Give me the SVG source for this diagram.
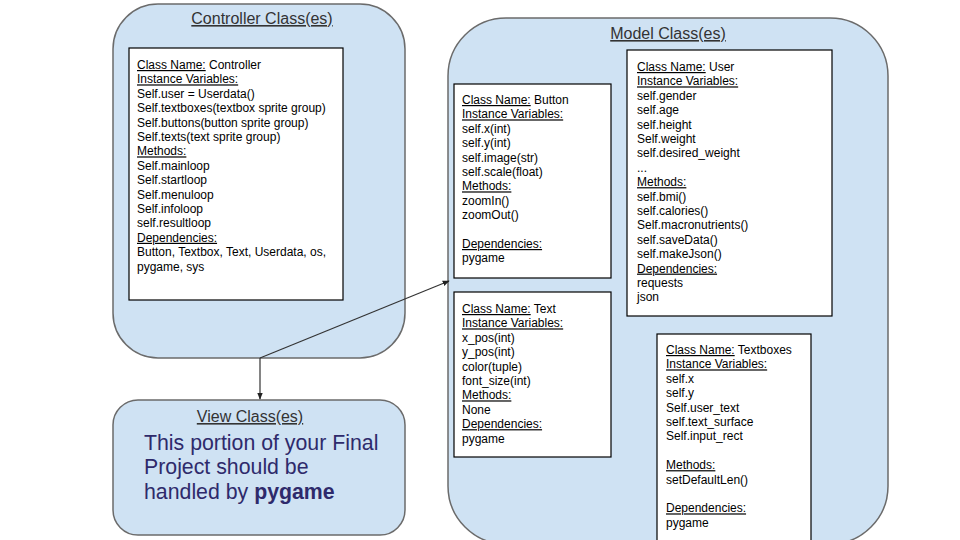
<svg xmlns="http://www.w3.org/2000/svg" width="960" height="540" viewBox="0 0 960 540">
<defs>
<style>
.grp{fill:#cfe2f3;stroke:#6b6b6b;stroke-width:1.5}
.cls{fill:#ffffff;stroke:#000000;stroke-width:1.2}
.t{font-family:"Liberation Sans",Arial,sans-serif;font-size:12px;fill:#000}
.u{text-decoration:underline}
.title{font-family:"Liberation Sans",Arial,sans-serif;font-size:16px;fill:#333;text-decoration:underline;text-anchor:middle}
.view{font-family:"Liberation Sans",Arial,sans-serif;font-size:21.3px;fill:#2e2a6b}
.conn{fill:none;stroke:#333;stroke-width:1.2}
</style>
<marker id="ah" viewBox="0 0 10 10" refX="9" refY="5" markerWidth="7" markerHeight="7" orient="auto" markerUnits="userSpaceOnUse">
<path d="M0,1 L10,5 L0,9 Z" fill="#222"/>
</marker>
</defs>
<rect width="960" height="540" fill="#ffffff"/>

<g id="controller">
<rect class="grp" x="113" y="4" width="292" height="354" rx="45"/>
<text class="title" x="262" y="24">Controller Class(es)</text>
<rect class="cls" x="129" y="48" width="214" height="252"/>
<text class="t" x="137" y="69"><tspan class="u">Class Name:</tspan> Controller</text>
<text class="t u" x="137" y="83.4">Instance Variables:</text>
<text class="t" x="137" y="97.8">Self.user = Userdata()</text>
<text class="t" x="137" y="112.2">Self.textboxes(textbox sprite group)</text>
<text class="t" x="137" y="126.6">Self.buttons(button sprite group)</text>
<text class="t" x="137" y="141">Self.texts(text sprite group)</text>
<text class="t u" x="137" y="155.4">Methods:</text>
<text class="t" x="137" y="169.8">Self.mainloop</text>
<text class="t" x="137" y="184.2">Self.startloop</text>
<text class="t" x="137" y="198.6">Self.menuloop</text>
<text class="t" x="137" y="213">Self.infoloop</text>
<text class="t" x="137" y="227.4">self.resultloop</text>
<text class="t u" x="137" y="241.8">Dependencies:</text>
<text class="t" x="137" y="256.2">Button, Textbox, Text, Userdata, os,</text>
<text class="t" x="137" y="270.6">pygame, sys</text>
</g>

<g id="view">
<rect class="grp" x="113" y="400" width="292" height="135" rx="25"/>
<text class="title" x="250" y="422">View Class(es)</text>
<text class="view" x="144" y="450">This portion of your Final</text>
<text class="view" x="144" y="474">Project should be</text>
<text class="view" x="144" y="499">handled by <tspan font-weight="bold">pygame</tspan></text>
</g>

<g id="model">
<rect class="grp" x="448" y="18" width="440" height="526" rx="58"/>
<text class="title" x="668" y="39">Model Class(es)</text>
</g>

<g id="button">
<rect class="cls" x="454" y="84" width="157" height="194"/>
<text class="t" x="462" y="104"><tspan class="u">Class Name:</tspan> Button</text>
<text class="t u" x="462" y="118.4">Instance Variables:</text>
<text class="t" x="462" y="132.8">self.x(int)</text>
<text class="t" x="462" y="147.2">self.y(int)</text>
<text class="t" x="462" y="161.6">self.image(str)</text>
<text class="t" x="462" y="176">self.scale(float)</text>
<text class="t u" x="462" y="190.4">Methods:</text>
<text class="t" x="462" y="204.8">zoomIn()</text>
<text class="t" x="462" y="219.2">zoomOut()</text>
<text class="t u" x="462" y="248">Dependencies:</text>
<text class="t" x="462" y="262.4">pygame</text>
</g>

<g id="text">
<rect class="cls" x="454" y="292" width="157" height="165"/>
<text class="t" x="462" y="313"><tspan class="u">Class Name:</tspan> Text</text>
<text class="t u" x="462" y="327.4">Instance Variables:</text>
<text class="t" x="462" y="341.8">x_pos(int)</text>
<text class="t" x="462" y="356.2">y_pos(int)</text>
<text class="t" x="462" y="370.6">color(tuple)</text>
<text class="t" x="462" y="385">font_size(int)</text>
<text class="t u" x="462" y="399.4">Methods:</text>
<text class="t" x="462" y="413.8">None</text>
<text class="t u" x="462" y="428.2">Dependencies:</text>
<text class="t" x="462" y="442.6">pygame</text>
</g>

<g id="user">
<rect class="cls" x="627" y="50" width="205" height="266"/>
<text class="t" x="637" y="71"><tspan class="u">Class Name:</tspan> User</text>
<text class="t u" x="637" y="85.4">Instance Variables:</text>
<text class="t" x="637" y="99.8">self.gender</text>
<text class="t" x="637" y="114.2">self.age</text>
<text class="t" x="637" y="128.6">self.height</text>
<text class="t" x="637" y="143">Self.weight</text>
<text class="t" x="637" y="157.4">self.desired_weight</text>
<text class="t" x="637" y="171.8">...</text>
<text class="t u" x="637" y="186.2">Methods:</text>
<text class="t" x="637" y="200.6">self.bmi()</text>
<text class="t" x="637" y="215">self.calories()</text>
<text class="t" x="637" y="229.4">Self.macronutrients()</text>
<text class="t" x="637" y="243.8">self.saveData()</text>
<text class="t" x="637" y="258.2">self.makeJson()</text>
<text class="t u" x="637" y="272.6">Dependencies:</text>
<text class="t" x="637" y="287">requests</text>
<text class="t" x="637" y="301.4">json</text>
</g>

<g id="textboxes">
<rect class="cls" x="657" y="334" width="154" height="215"/>
<text class="t" x="666" y="354"><tspan class="u">Class Name:</tspan> Textboxes</text>
<text class="t u" x="666" y="368.4">Instance Variables:</text>
<text class="t" x="666" y="382.8">self.x</text>
<text class="t" x="666" y="397.2">self.y</text>
<text class="t" x="666" y="411.6">Self.user_text</text>
<text class="t" x="666" y="426">self.text_surface</text>
<text class="t" x="666" y="440.4">Self.input_rect</text>
<text class="t u" x="666" y="469.2">Methods:</text>
<text class="t" x="666" y="483.6">setDefaultLen()</text>
<text class="t u" x="666" y="512.4">Dependencies:</text>
<text class="t" x="666" y="526.8">pygame</text>
</g>

<g id="connectors">
<path class="conn" d="M260,358 L260,399" marker-end="url(#ah)"/>
<path class="conn" d="M260,358 L449,281" marker-end="url(#ah)"/>
</g>
</svg>
